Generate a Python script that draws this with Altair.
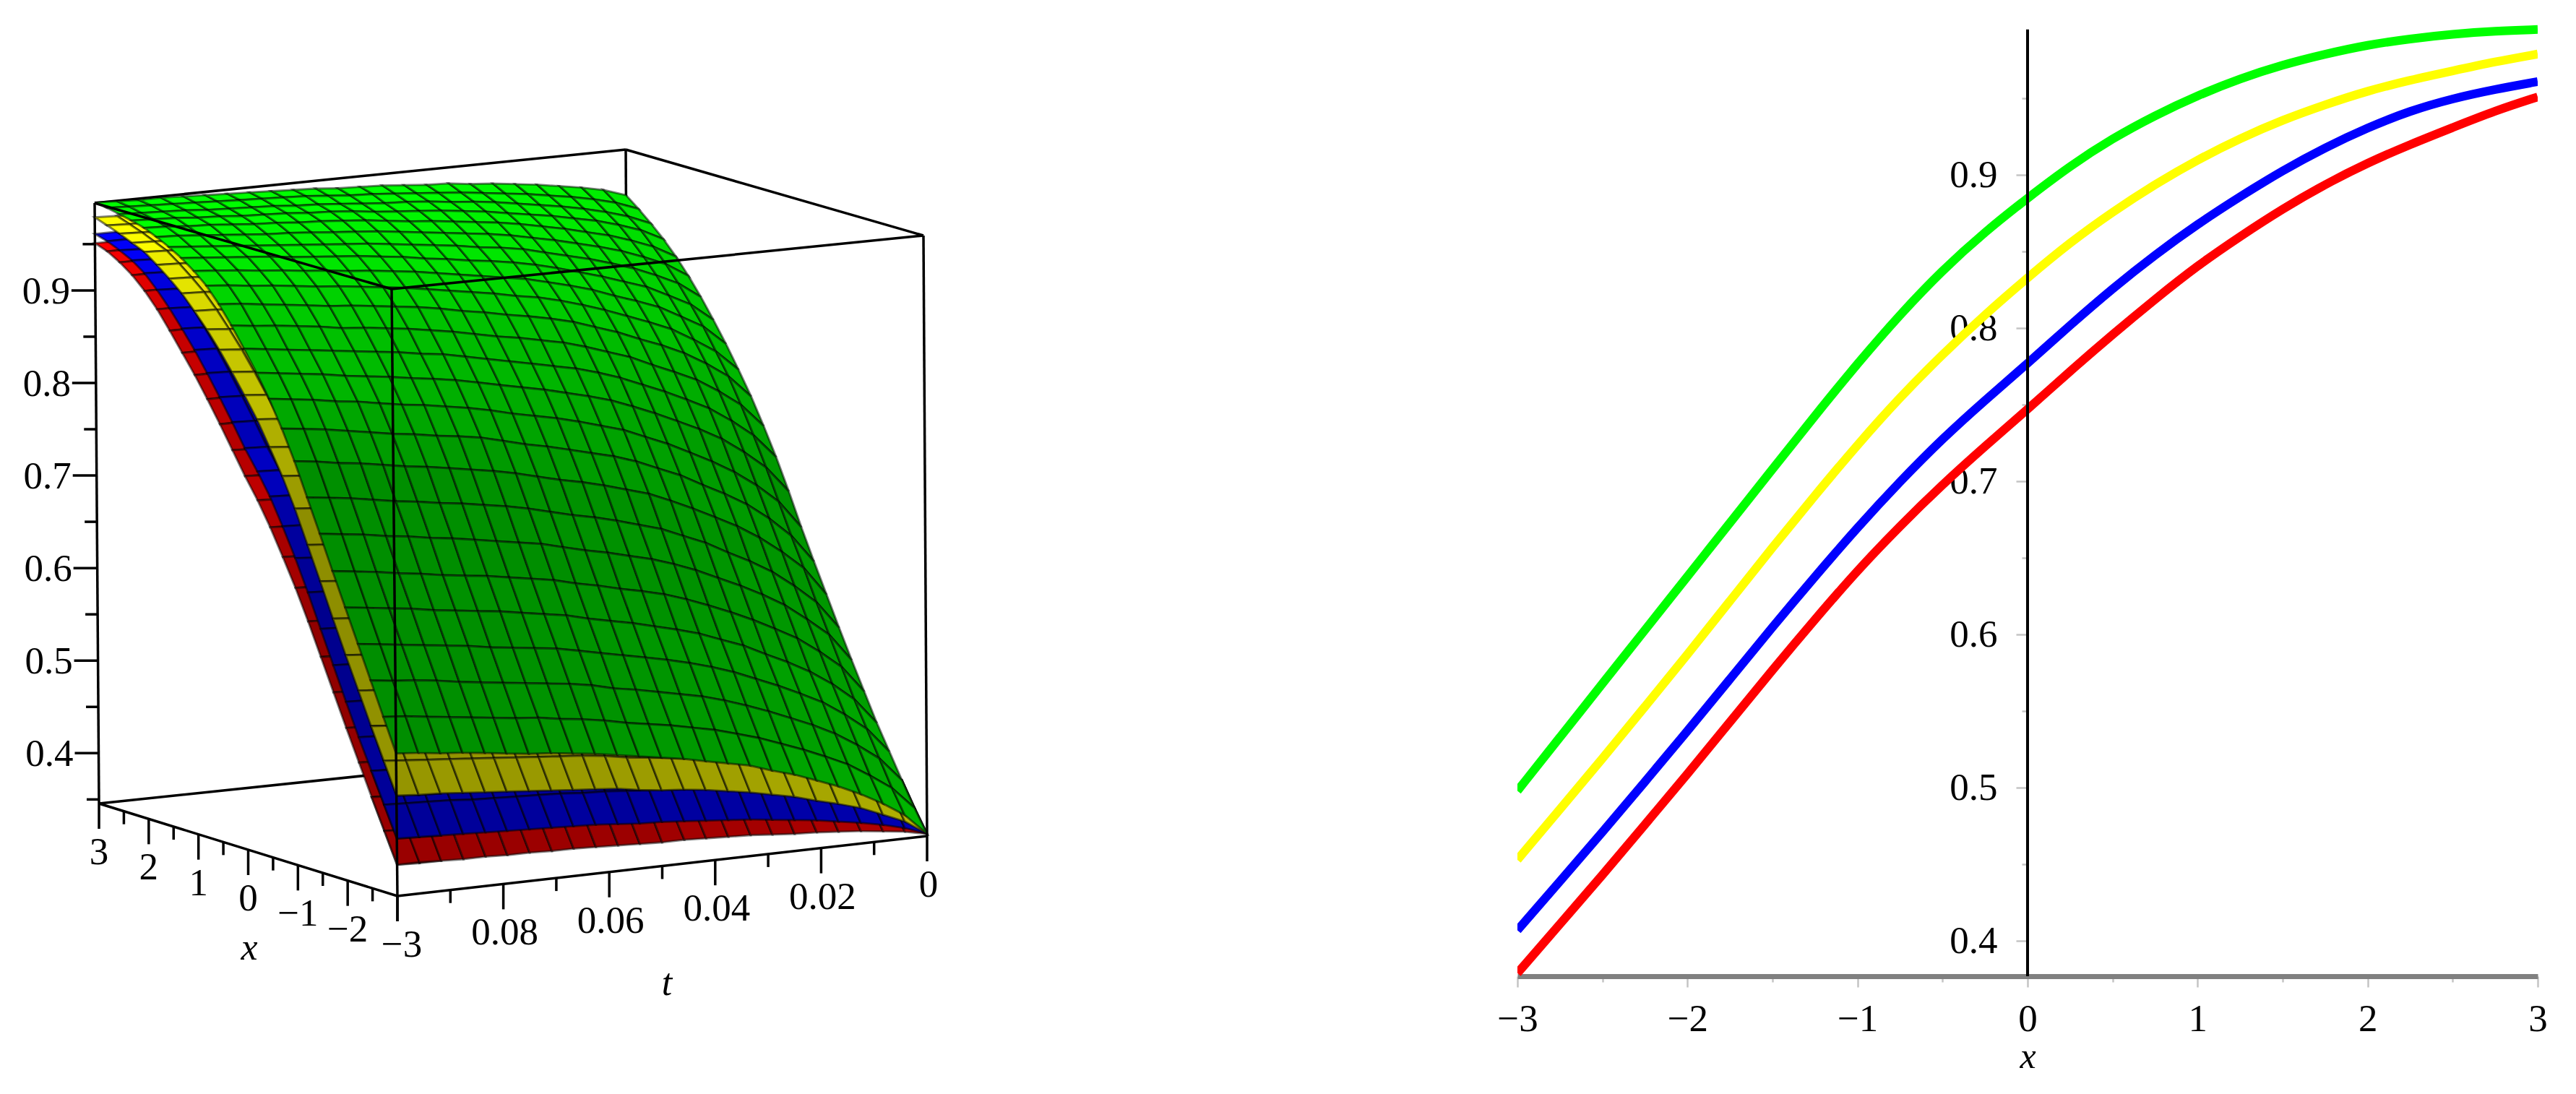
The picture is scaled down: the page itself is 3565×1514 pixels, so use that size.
import altair as alt
import pandas as pd

alt.data_transformers.disable_max_rows()

SERIF = "Liberation Serif"

x_values = [-3, -2.75, -2.5, -2.25, -2, -1.75, -1.5, -1.25, -1, -0.75, -0.5, -0.25, 0,
            0.25, 0.5, 0.75, 1, 1.25, 1.5, 1.75, 2, 2.25, 2.5, 2.75, 3]
t_values = [0.1, 0.0958, 0.0917, 0.0875, 0.0833, 0.0792, 0.075, 0.0708, 0.0667, 0.0625, 0.0583, 0.0542, 0.05,
            0.0458, 0.0417, 0.0375, 0.0333, 0.0292, 0.025, 0.0208, 0.0167, 0.0125, 0.0083, 0.0042, 0]

# right panel curves at t = 0.1, in thousandths
curve_green = [498,533,568,603,638,673,708,743,777,809,838,863,885,906,924,939,952,963,972,979,985,989,992,994,995]
curve_yellow = [453,486,519,553,587,622,657,691,724,755,783,809,833,856,876,894,910,924,936,946,955,962,968,974,979]
curve_blue = [407,439,471,504,537,571,605,638,670,700,728,753,777,802,826,848,868,886,903,918,931,942,950,956,961]
curve_red = [379,411,443,476,509,543,577,610,642,671,698,723,747,772,796,819,841,860,878,894,908,920,931,942,951]

# surface heights, in thousandths: one row per x, one column per t
green_table = [
    [498,496,493,491,488,485,482,480,477,474,470,466,462,458,453,448,443,435,428,419,410,399,386,371,348],
    [533,531,528,525,522,519,516,514,510,507,503,498,494,490,485,480,473,466,457,448,438,427,412,396,372],
    [568,565,563,560,556,553,550,547,544,541,537,531,527,522,517,512,505,497,488,478,468,456,441,424,398],
    [603,600,597,594,591,588,584,581,578,575,570,565,560,555,550,544,537,529,519,509,498,486,470,452,425],
    [638,635,632,629,625,622,619,616,612,608,604,598,593,588,582,576,569,560,551,539,528,515,499,480,452],
    [673,670,667,663,660,656,653,650,646,642,638,632,627,621,616,610,602,593,583,572,560,547,530,511,482],
    [709,706,703,699,696,692,689,685,681,677,673,667,661,656,650,644,636,627,616,605,593,579,561,542,512],
    [744,741,738,734,730,727,723,720,716,712,707,701,695,690,684,677,670,660,650,637,625,611,593,573,543],
    [779,776,772,769,765,761,758,754,750,746,741,735,729,724,718,711,704,694,683,671,659,644,626,606,575],
    [810,807,804,800,796,792,789,785,782,778,772,766,761,755,749,743,735,725,715,702,690,676,658,637,607],
    [838,835,832,828,825,821,817,814,810,806,801,795,790,785,779,772,765,755,745,733,721,707,690,670,640],
    [862,859,856,853,849,846,843,839,836,832,827,822,817,812,806,800,793,784,774,763,752,739,722,703,675],
    [884,881,878,875,872,869,866,863,859,856,851,846,841,836,831,826,819,811,801,791,780,768,752,734,708],
    [905,902,900,897,894,890,888,885,882,878,874,869,864,860,855,850,843,835,827,816,806,795,780,763,738],
    [924,922,919,916,913,910,908,905,902,899,895,890,886,881,877,872,866,858,850,840,831,820,806,790,766],
    [940,938,935,933,930,927,925,922,919,916,912,908,904,900,895,891,885,878,870,861,852,842,828,813,791],
    [952,950,948,945,943,940,938,935,933,930,927,923,919,915,911,907,901,895,888,879,871,862,849,836,815],
    [962,960,958,956,954,951,949,947,945,942,939,935,932,928,925,921,916,910,903,896,888,880,868,856,837],
    [970,968,966,964,962,960,958,956,954,952,949,946,943,940,936,933,929,923,917,911,904,896,886,875,858],
    [977,976,974,972,970,968,967,965,963,961,959,956,953,950,947,944,940,935,930,924,918,911,902,892,877],
    [983,982,980,979,977,975,974,972,971,969,967,964,961,959,956,953,950,946,941,936,930,924,916,907,894],
    [987,986,985,983,982,980,979,978,976,975,973,970,968,966,964,961,958,954,950,946,941,936,929,921,909],
    [990,989,988,987,985,984,983,982,980,979,977,975,973,972,970,967,965,962,958,954,950,945,939,932,922],
    [993,992,991,990,989,988,987,986,985,984,982,980,979,977,975,973,971,968,965,962,958,954,949,943,934],
    [995,994,993,993,992,991,990,989,988,987,986,984,983,982,980,978,977,974,972,969,966,962,958,953,945],
]

# the lower surfaces only show as strips, so only their first rows and columns are kept
yellow_front = [
    [453,451,450,448,446,444,442,440,438,436,434,430,427,425,422,418,414,409,404,397,391,384,374,364,348],
    [486,484,482,480,478,476,474,472,470,468,465,461,458,455,452,448,444,438,432,426,419,411,401,389,372],
    [519,517,515,513,511,508,506,504,502,500,497,493,490,486,483,479,474,469,462,455,448,439,428,416,398],
]
yellow_side = [
    [453,486,519,553,587,622,658,693,728,759,786,812,834,855,875,893,909,924,936,947,957,963,969,974,979],
    [451,484,517,551,585,620,656,691,726,757,784,810,832,853,873,891,908,923,935,946,956,962,968,973,978],
    [450,482,515,549,583,618,653,688,723,754,781,808,830,851,872,890,906,921,934,945,955,961,967,973,978],
]
blue_front = [
    [407,406,405,404,403,402,401,400,399,398,396,394,393,391,389,387,385,382,379,376,372,368,363,357,348],
    [439,438,437,436,434,433,432,431,430,428,427,425,423,421,419,417,414,411,408,403,399,395,389,382,372],
    [471,470,469,467,466,465,463,462,461,459,457,455,453,451,449,447,444,441,437,432,428,423,416,409,398],
]
blue_side = [
    [407,439,471,503,537,572,607,642,675,705,733,756,777,801,824,846,867,886,904,920,934,944,951,957,961],
    [406,438,470,502,536,571,606,641,673,704,732,755,776,800,823,845,866,885,903,919,933,943,950,957,961],
    [405,437,469,501,534,569,604,639,672,702,730,753,775,799,822,844,865,884,903,919,933,943,950,956,960],
]
red_front = [
    [379,379,378,377,377,376,376,375,375,374,373,372,371,371,370,369,368,366,364,363,361,359,356,353,348],
    [411,410,410,409,408,408,407,406,406,405,404,403,402,400,399,398,397,395,393,390,388,385,382,378,372],
    [443,442,442,441,440,439,438,438,437,436,435,433,432,431,430,428,426,424,422,419,416,413,409,405,398],
]
red_side = [
    [379,411,443,476,509,543,577,611,643,672,700,725,747,771,795,818,840,860,880,899,915,928,938,946,951],
    [378,410,442,475,508,542,576,610,642,671,699,724,746,770,795,818,840,860,880,899,915,928,938,946,951],
    [378,410,442,474,507,541,575,609,641,670,698,723,746,770,794,817,839,859,879,898,914,927,937,946,951],
]

z_ticks = [0.35, 0.4, 0.45, 0.5, 0.55, 0.6, 0.65, 0.7, 0.75, 0.8, 0.85, 0.9, 0.95]
x_ticks = [-3, -2.5, -2, -1.5, -1, -0.5, 0, 0.5, 1, 1.5, 2, 2.5, 3]
t_ticks = [0, 0.01, 0.02, 0.03, 0.04, 0.05, 0.06, 0.07, 0.08, 0.09, 0.1]
z_labels = [0.4, 0.5, 0.6, 0.7, 0.8, 0.9]
x_labels = [-3, -2, -1, 0, 1, 2, 3]
t_labels = [0, 0.02, 0.04, 0.06, 0.08]

# box corners on the page: key is (x end, t end, bottom/top)
corners = {
    (0, 0, 0): (550, 1240), (1, 0, 0): (137, 1112), (0, 1, 0): (1283, 1157), (1, 1, 0): (871, 1035),
    (0, 0, 1): (542, 400), (1, 0, 1): (131, 281), (0, 1, 1): (1278, 326), (1, 1, 1): (866, 207),
}
Z_MIN, Z_MAX = 0.3456, 0.9944


def project(x, t, z):
    s = (x + 3) / 6
    r = (0.1 - t) / 0.1
    w = (z - Z_MIN) / (Z_MAX - Z_MIN)
    px, py = 0, 0
    for (a, b, c), (cx, cy) in corners.items():
        k = (s if a else 1 - s) * (r if b else 1 - r) * (w if c else 1 - w)
        px += k * cx
        py += k * cy
    return px, py


def shade(base, slope):
    f = min(1, max(0.56, 1 - (slope - 0.02) * 3.7))
    return "#%02x%02x%02x" % tuple(int(v * f) for v in base)


rows = []
cell_id = 0


def add_cell(xs, ts, zs, base):
    global cell_id
    slope = abs((zs[2] + zs[3]) - (zs[0] + zs[1])) / 2 / 250
    color = shade(base, slope)
    for pt in range(4):
        px, py = project(xs[pt], ts[pt], zs[pt] / 1000)
        rows.append({"cell": cell_id, "pt": pt, "px": px, "py": py, "color": color})
    cell_id += 1


def add_front(table, base):
    for i in range(len(table) - 2, -1, -1):
        for j in range(24):
            add_cell([x_values[i], x_values[i], x_values[i + 1], x_values[i + 1]],
                     [t_values[j], t_values[j + 1], t_values[j + 1], t_values[j]],
                     [table[i][j], table[i][j + 1], table[i + 1][j + 1], table[i + 1][j]], base)


def add_side(table, base):
    for j in range(len(table) - 2, -1, -1):
        for i in range(23, -1, -1):
            add_cell([x_values[i], x_values[i], x_values[i + 1], x_values[i + 1]],
                     [t_values[j], t_values[j + 1], t_values[j + 1], t_values[j]],
                     [table[j][i], table[j + 1][i], table[j + 1][i + 1], table[j][i + 1]], base)


add_side(red_side, (255, 0, 0))
add_front(red_front, (255, 0, 0))
add_side(blue_side, (0, 0, 255))
add_front(blue_front, (0, 0, 255))
add_side(yellow_side, (255, 255, 0))
add_front(yellow_front, (255, 255, 0))
add_front(green_table, (0, 255, 0))
cells = pd.DataFrame(rows)


def edge_rows(pairs):
    out = []
    for a, b in pairs:
        x1, y1 = project(*a)
        x2, y2 = project(*b)
        out.append({"px": x1, "py": y1, "px2": x2, "py2": y2})
    return pd.DataFrame(out)


L_BOT, L_TOP = (3, 0.1, Z_MIN), (3, 0.1, Z_MAX)
F_BOT, F_TOP = (-3, 0.1, Z_MIN), (-3, 0.1, Z_MAX)
R_BOT, R_TOP = (-3, 0, Z_MIN), (-3, 0, Z_MAX)
B_BOT, B_TOP = (3, 0, Z_MIN), (3, 0, Z_MAX)
back_edges = edge_rows([(L_BOT, L_TOP), (L_TOP, B_TOP), (B_TOP, R_TOP), (L_BOT, B_BOT), (B_TOP, B_BOT)])
front_edges = edge_rows([(L_TOP, F_TOP), (F_TOP, R_TOP), (F_TOP, F_BOT), (R_TOP, R_BOT), (F_BOT, R_BOT), (L_BOT, F_BOT)])

tick_rows = []
for z in z_ticks:
    px, py = project(3, 0.1, z)
    tick_rows.append({"px": px, "py": py, "px2": px - (33 if z in z_labels else 17), "py2": py})
for x in x_ticks:
    px, py = project(x, 0.1, Z_MIN)
    tick_rows.append({"px": px, "py": py, "px2": px, "py2": py + (35 if x in x_labels else 18)})
for t in t_ticks:
    px, py = project(-3, t, Z_MIN)
    tick_rows.append({"px": px, "py": py, "px2": px, "py2": py + (35 if t in t_labels or t == 0.1 else 18)})
ticks_3d = pd.DataFrame(tick_rows)

label_rows = []
for z in z_labels:
    px, py = project(3, 0.1, z)
    label_rows.append({"px": px - 68, "py": py + 2, "label": f"{z:.1f}"})
for x in x_labels:
    px, py = project(x, 0.1, Z_MIN)
    label_rows.append({"px": px + (6 if x == -3 else 0), "py": py + 68, "label": str(x).replace("-", "\u2212")})
for t in t_labels:
    px, py = project(-3, t, Z_MIN)
    label_rows.append({"px": px + 2, "py": py + 68, "label": "0" if t == 0 else f"{t:.2f}"})
labels_3d = pd.DataFrame(label_rows)
names_3d = pd.DataFrame([{"px": 345, "py": 1312, "label": "x"}, {"px": 923, "py": 1361, "label": "t"}])

X_PAGE = alt.X("px:Q", axis=None, scale=alt.Scale(domain=[8, 1908], nice=False, zero=False))
Y_PAGE = alt.Y("py:Q", axis=None, scale=alt.Scale(domain=[1506, 8], nice=False, zero=False))


def rules(df, width=3.5):
    return alt.Chart(df).mark_rule(color="black", strokeWidth=width).encode(
        X_PAGE, Y_PAGE, x2=alt.X2("px2:Q"), y2=alt.Y2("py2:Q")
    )


surface = alt.Chart(cells).mark_line(
    interpolate="linear-closed", stroke="black", strokeOpacity=0.5, strokeWidth=3
).encode(
    X_PAGE, Y_PAGE, detail="cell:N", fill=alt.Fill("color:N", scale=None), order="pt:Q"
)
number_text = alt.Chart(labels_3d).mark_text(font=SERIF, fontSize=53, color="black").encode(
    X_PAGE, Y_PAGE, text="label:N"
)
name_text = alt.Chart(names_3d).mark_text(font=SERIF, fontSize=52, fontStyle="italic", color="black").encode(
    X_PAGE, Y_PAGE, text="label:N"
)

left = alt.layer(
    rules(back_edges), surface, rules(front_edges), rules(ticks_3d), number_text, name_text
).properties(width=1900, height=1498)

# right panel
lines = pd.DataFrame(
    [{"x": x, "u": v / 1000, "curve": "red"} for x, v in zip(x_values, curve_red)]
    + [{"x": x, "u": v / 1000, "curve": "blue"} for x, v in zip(x_values, curve_blue)]
    + [{"x": x, "u": v / 1000, "curve": "yellow"} for x, v in zip(x_values, curve_yellow)]
    + [{"x": x, "u": v / 1000, "curve": "green"} for x, v in zip(x_values, curve_green)]
)

x_axis = alt.Axis(
    values=x_ticks, title="x", titleFont=SERIF, titleFontStyle="italic", titleFontWeight="normal",
    titleFontSize=50, titleColor="black", titlePadding=0, labelFont=SERIF, labelFontSize=53,
    labelColor="black", labelPadding=18, labelFlush=False, labelOverlap=False,
    labelExpr="datum.value % 1 === 0 ? format(datum.value, 'd') : ''",
    domainColor="#808080", domainWidth=7, tickColor="#c4c4c4", tickWidth=2.5,
    tickSize=alt.expr("datum.value % 1 === 0 ? 15 : 8"), grid=False,
)
y_axis = alt.Axis(
    values=z_ticks, title=None, offset=-706, domain=False, labelFont=SERIF, labelFontSize=53,
    labelColor="black", labelPadding=26, labelOverlap=False,
    labelExpr="round(datum.value * 100) % 10 === 0 ? format(datum.value, '.1f') : ''",
    tickColor="#c4c4c4", tickWidth=2.5, tickSize=alt.expr("round(datum.value * 100) % 10 === 0 ? 16 : 8"),
    grid=False,
)
curves = alt.Chart(lines).mark_line(interpolate="basis", strokeWidth=12, strokeCap="butt", clip=True).encode(
    alt.X("x:Q", axis=x_axis, scale=alt.Scale(domain=[-3, 3], nice=False, zero=False)),
    alt.Y("u:Q", axis=y_axis, scale=alt.Scale(domain=[0.377, 1.0105], nice=False, zero=False)),
    color=alt.Color(
        "curve:N", legend=None,
        scale=alt.Scale(domain=["red", "blue", "yellow", "green"], range=["#ff0000", "#0000ff", "#ffff00", "#00ff00"]),
    ),
)
zero_axis = alt.Chart(pd.DataFrame({"x": [0], "u": [0.377], "u2": [0.995]})).mark_rule(
    color="black", strokeWidth=4
).encode(x="x:Q", y="u:Q", y2="u2:Q")
right = alt.layer(curves, zero_axis).properties(width=1412, height=1343)

chart = alt.hconcat(left, right, spacing=192, bounds="flush").properties(padding=0).configure_view(stroke=None)
chart.save("out.html", embed_options={"renderer": "svg", "actions": False})
